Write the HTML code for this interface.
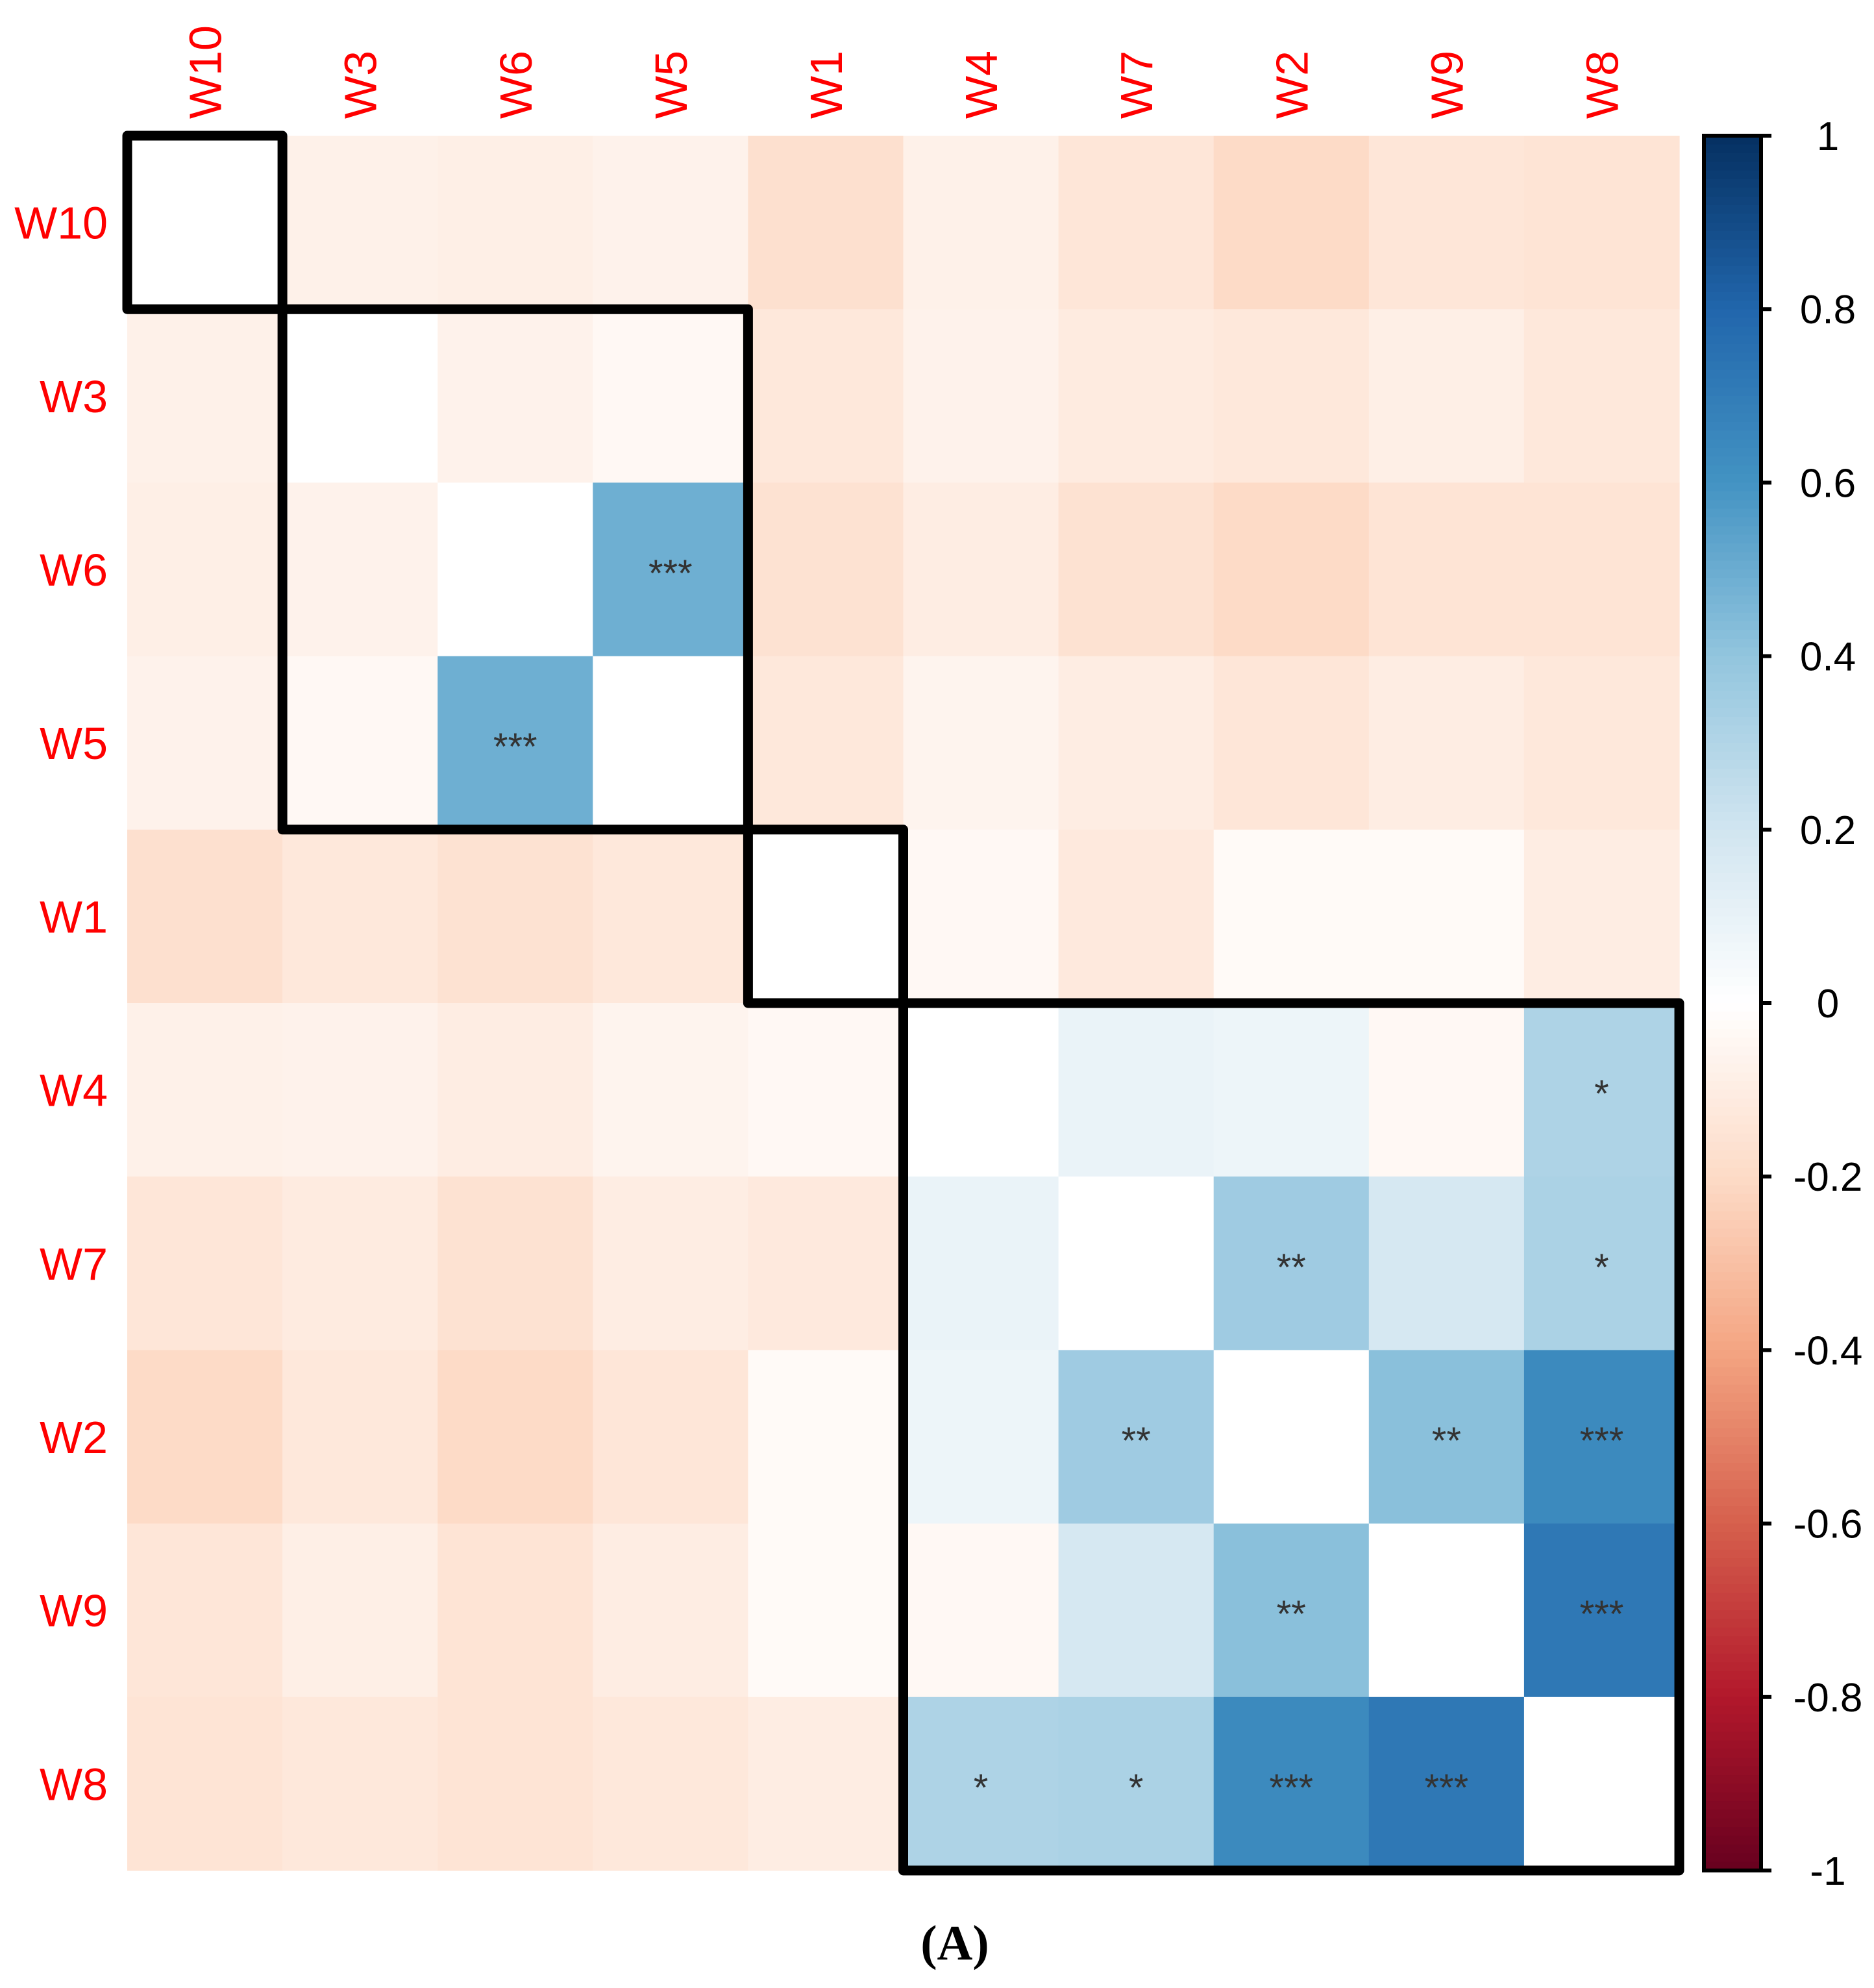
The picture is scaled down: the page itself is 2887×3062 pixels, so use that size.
<!DOCTYPE html>
<html><head><meta charset="utf-8"><style>html,body{margin:0;padding:0;background:#fff;}svg{display:block;}</style></head>
<body>
<svg id="chart" width="2887" height="3062" viewBox="0 0 2887 3062" xmlns="http://www.w3.org/2000/svg">
<g id="cells"></g><g id="stars"></g><g id="boxes"></g><g id="labels"></g><g id="cbar"></g>
<text x="1471" y="3018" text-anchor="middle" font-family="Liberation Serif, serif" font-weight="bold" font-size="76" fill="#000">(A)</text>
</svg>
<script>
const vars = ["W10","W3","W6","W5","W1","W4","W7","W2","W9","W8"];
// upper triangle values per row (row i, cols i+1..9)
const corrUpper = [
  [-0.08,-0.09,-0.07,-0.17,-0.08,-0.14,-0.20,-0.14,-0.15],
  [-0.07,-0.04,-0.13,-0.07,-0.11,-0.13,-0.09,-0.13],
  [0.49,-0.16,-0.10,-0.16,-0.20,-0.15,-0.15],
  [-0.13,-0.06,-0.10,-0.14,-0.10,-0.13],
  [-0.04,-0.12,-0.03,-0.03,-0.10],
  [0.09,0.08,-0.04,0.31],
  [0.36,0.18,0.32],
  [0.42,0.64],
  [0.72]
];
const sigUpper = [
  ["","","","","","","","",""],
  ["","","","","","","",""],
  ["***","","","","","",""],
  ["","","","","",""],
  ["","","","",""],
  ["","","","*"],
  ["**","","*"],
  ["**","***"],
  ["***"]
];
const clusters = [[0,0],[1,3],[4,4],[5,9]];
const cbTicks = [1,0.8,0.6,0.4,0.2,0,-0.2,-0.4,-0.6,-0.8,-1];
const cbTickLabels = ["1","0.8","0.6","0.4","0.2","0","-0.2","-0.4","-0.6","-0.8","-1"];

const NS="http://www.w3.org/2000/svg";
const X0=196, X1=2587, Y0=209, Y1=2881, n=vars.length;
const cw=(X1-X0)/n, ch=(Y1-Y0)/n;
const xPos=j=>X0+j*cw, yPos=i=>Y0+i*ch;
const stops=["#67001F","#B2182B","#D6604D","#F4A582","#FDDBC7","#FFFFFF","#D1E5F0","#92C5DE","#4393C3","#2166AC","#053061"];
function hex(h){return [1,3,5].map(k=>parseInt(h.substr(k,2),16));}
function color(v){
  const t=(Math.max(-1,Math.min(1,v))+1)/2*(stops.length-1);
  const k=Math.min(stops.length-2,Math.floor(t)), f=t-k;
  const a=hex(stops[k]), b=hex(stops[k+1]);
  return "rgb("+a.map((c,q)=>Math.round(c+(b[q]-c)*f)).join(",")+")";
}
function val(i,j){ if(i===j) return 1; return i<j?corrUpper[i][j-i-1]:corrUpper[j][i-j-1]; }
function sig(i,j){ if(i===j) return ""; return i<j?sigUpper[i][j-i-1]:sigUpper[j][i-j-1]; }
function mk(tag,attrs,parent){const e=document.createElementNS(NS,tag);for(const k in attrs)e.setAttribute(k,attrs[k]);parent.appendChild(e);return e;}

const gc=document.getElementById("cells"), gs=document.getElementById("stars");
for(let i=0;i<n;i++)for(let j=0;j<n;j++){
  const v=val(i,j);
  const r=mk("rect",{x:xPos(j),y:yPos(i),width:cw+0.6,height:ch+0.6,fill:i===j?"#FFFFFF":color(v)},gc);
  
  
  const s=sig(i,j);
  if(s){
    const t=mk("text",{x:xPos(j)+cw/2,y:yPos(i)+ch/2+26,"text-anchor":"middle","font-family":"Liberation Sans, sans-serif","font-size":"58",fill:"#333"},gs);
    t.textContent=s;
    
    
  }
}
const gb=document.getElementById("boxes");
clusters.forEach((c,k)=>{
  const r=mk("rect",{x:xPos(c[0]),y:yPos(c[0]),width:(c[1]-c[0]+1)*cw,height:(c[1]-c[0]+1)*ch,fill:"none",stroke:"#000","stroke-width":"15","stroke-linejoin":"round"},gb);
  
  
});
const gl=document.getElementById("labels");
vars.forEach((v,i)=>{
  const t=mk("text",{x:166,y:yPos(i)+ch/2+25,"text-anchor":"end","font-family":"Liberation Sans, sans-serif","font-size":"70",fill:"#FF0000"},gl);
  t.textContent=v;
  
  
  const cx=xPos(i)+cw/2;
  const u=mk("text",{x:0,y:0,transform:"translate("+(cx+25)+",183) rotate(-90)","text-anchor":"start","font-family":"Liberation Sans, sans-serif","font-size":"70",fill:"#FF0000"},gl);
  u.textContent=v;
  
  
});
// colorbar
const gcb=document.getElementById("cbar");
const CX0=2625, CX1=2713;
const cbY=v=>Y0+(1-v)/2*(Y1-Y0);
const N=200;
for(let k=0;k<N;k++){
  const v1=1-2*k/N, v2=1-2*(k+1)/N;
  const r=mk("rect",{x:CX0,y:cbY(v1),width:CX1-CX0,height:cbY(v2)-cbY(v1)+0.8,fill:color((v1+v2)/2)},gcb);
  
  
}
const cbb=mk("rect",{x:CX0,y:Y0,width:CX1-CX0,height:Y1-Y0,fill:"none",stroke:"#000","stroke-width":"6"},gcb);


cbTicks.forEach((v,k)=>{
  const l=mk("line",{x1:CX1,x2:2729,y1:cbY(v),y2:cbY(v),stroke:"#000","stroke-width":"6"},gcb);
  
  
  const t=mk("text",{x:2816,y:cbY(v)+22,"text-anchor":"middle","font-family":"Liberation Sans, sans-serif","font-size":"62",fill:"#000"},gcb);
  t.textContent=cbTickLabels[k];
  
  
});
</script>
</body></html>
